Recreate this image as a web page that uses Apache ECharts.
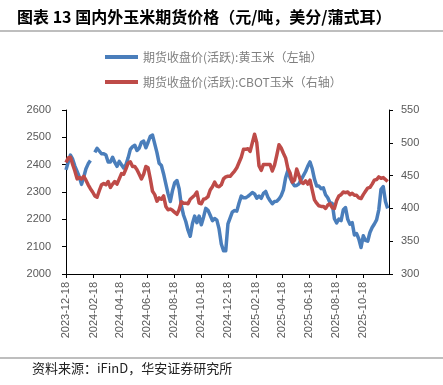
<!DOCTYPE html>
<html>
<head>
<meta charset="utf-8">
<script src="https://cdn.jsdelivr.net/npm/echarts@6/dist/echarts.min.js"></script>
<style>html,body{margin:0;padding:0;background:#fff}#c{width:443px;height:385px}</style>
</head>
<body>
<div id="c"></div>
<script>
// Sampling grid: every 5 calendar days from START
const START = [2023, 12, 18];
const STEP_DAYS = 5;
const AXIS_END = [2025, 12, 15];
const tickLabels = ['2023-12-18','2024-02-18','2024-04-18','2024-06-18','2024-08-18','2024-10-18',
  '2024-12-18','2025-02-18','2025-04-18','2025-06-18','2025-08-18','2025-10-18'];
const seriesNames = ['期货收盘价(活跃):黄玉米（左轴）', '期货收盘价(活跃):CBOT玉米（右轴）'];
// 黄玉米 (元/吨), left axis
const cornDCE = [2381,2410,2435,2420,2395,2375,2355,2328,2355,2385,
2403,2415,null,2445,2460,2450,2440,2440,2435,2410,
2410,2427,2408,2394,2412,2400,2388,2400,2425,2456,
2466,2471,2452,2460,2482,2486,2462,2482,2504,2508,
2476,2444,2405,2397,2366,2330,2294,2265,2305,2334,
2342,2312,2250,2215,2192,2160,2138,2185,2212,2188,
2212,2180,2208,2240,2233,2215,2195,2203,2197,2165,
2110,2085,2085,2183,2205,2227,2232,2230,2260,2285,
2279,2279,2284,2291,2298,2293,2277,2285,2277,2295,
2302,2281,2268,2257,2265,2266,2274,2287,2308,2352,
2379,2352,2335,2323,2324,2330,2345,2360,2375,2395,
2410,2385,2347,2322,2322,2312,2315,2290,2279,2261,
2258,2202,2187,2201,2195,2235,2243,2200,2182,2188,
2143,2148,2128,2097,2140,2123,2120,2152,2170,2183,
2198,2235,2310,2320,2265,2240];
// CBOT玉米 (美分/蒲式耳), right axis
const cornCBOT = [470,477,478,467,457,445,447,445,449,443,
436,430,425,419,417,427,436,438,436,441,
432,437,441,437,445,453,452,460,469,471,
464,464,459,452,445,452,464,462,445,426,
421,411,416,414,419,403,398,399,397,394,
391,398,410,408,408,407,414,417,420,425,
408,407,414,415,418,428,433,440,434,433,
436,445,448,449,449,453,457,462,470,478,
490,490,491,487,500,513,500,465,458,467,
467,467,467,457,466,481,497,492,484,477,
461,454,440,443,460,450,440,438,442,437,
443,428,413,408,404,403,403,400,405,407,
401,400,412,419,421,425,424,425,421,423,
420,420,416,415,421,426,431,432,437,443,
444,448,446,447,444,441];

function toTs(s){ const p = s.split('-').map(Number); return Date.UTC(p[0], p[1]-1, p[2]); }
const tickTs = tickLabels.map(toTs);
const dates = cornDCE.map((_, i) => Date.UTC(START[0], START[1]-1, START[2] + i*STEP_DAYS));
const dataL = dates.map((d, i) => [d, cornDCE[i] == null ? '-' : cornDCE[i]]);
const dataR = dates.map((d, i) => [d, cornCBOT[i]]);

const chart = echarts.init(document.getElementById('c'), null, {renderer:'canvas'});
const labelStyle = {color:'#595959', fontSize:11, fontFamily:'Liberation Sans, Arial, sans-serif'};
chart.setOption({
  animation:false,
  backgroundColor:'#fff',
  graphic:[
    {type:'text', left:17, top:9, style:{text:'图表 13 国内外玉米期货价格（元/吨，美分/蒲式耳）', font:'bold 16px "Noto Sans CJK SC"', fill:'#000'}},
    {type:'line', shape:{x1:0,y1:31,x2:443,y2:31}, style:{stroke:'#7f7f7f', lineWidth:1.2}},
    {type:'line', shape:{x1:0,y1:358,x2:443,y2:358}, style:{stroke:'#7f7f7f', lineWidth:1.2}},
    {type:'text', left:32, top:362, style:{text:'资料来源：iFinD，华安证券研究所', font:'13px "Noto Sans CJK SC"', fill:'#222'}}
  ],
  legend:{
    orient:'vertical', left:105, top:50, padding:0, itemWidth:33, itemHeight:4, itemGap:11, icon:'rect',
    textStyle:{color:'#7f7f7f', fontSize:12, fontFamily:'Noto Sans CJK SC', lineHeight:14},
    data:seriesNames
  },
  grid:{left:66, right:54, top:110, bottom:111, containLabel:false},
  xAxis:{
    type:'value', min:toTs(START.join('-')), max:toTs(AXIS_END.join('-')),
    splitLine:{show:false},
    axisLine:{lineStyle:{color:'#000', width:1}},
    axisTick:{show:true, length:4, lineStyle:{color:'#000'}, customValues:tickTs},
    axisLabel:{...labelStyle, rotate:90, margin:8, customValues:tickTs,
      formatter:function(v){ const k = tickTs.indexOf(v); return k >= 0 ? tickLabels[k] : ''; }}
  },
  yAxis:[
    {type:'value', min:2000, max:2600, interval:100, position:'left',
     splitLine:{show:false},
     axisLine:{show:true, lineStyle:{color:'#000'}},
     axisTick:{show:true, length:4, lineStyle:{color:'#000'}},
     axisLabel:{...labelStyle, margin:15, formatter:function(v){ return String(v); }}},
    {type:'value', min:300, max:550, interval:50, position:'right',
     splitLine:{show:false},
     axisLine:{show:true, lineStyle:{color:'#000'}},
     axisTick:{show:true, length:4, lineStyle:{color:'#000'}},
     axisLabel:{...labelStyle, margin:12, formatter:function(v){ return String(v); }}}
  ],
  series:[
    {name:seriesNames[0], type:'line', yAxisIndex:0, data:dataL, showSymbol:false, connectNulls:false,
     lineStyle:{color:'#4A7EBB', width:3.5, join:'round'}, itemStyle:{color:'#4A7EBB'}, z:2},
    {name:seriesNames[1], type:'line', yAxisIndex:1, data:dataR, showSymbol:false,
     lineStyle:{color:'#BE4B48', width:3.5, join:'round'}, itemStyle:{color:'#BE4B48'}, z:3}
  ]
});
</script>
</body>
</html>
